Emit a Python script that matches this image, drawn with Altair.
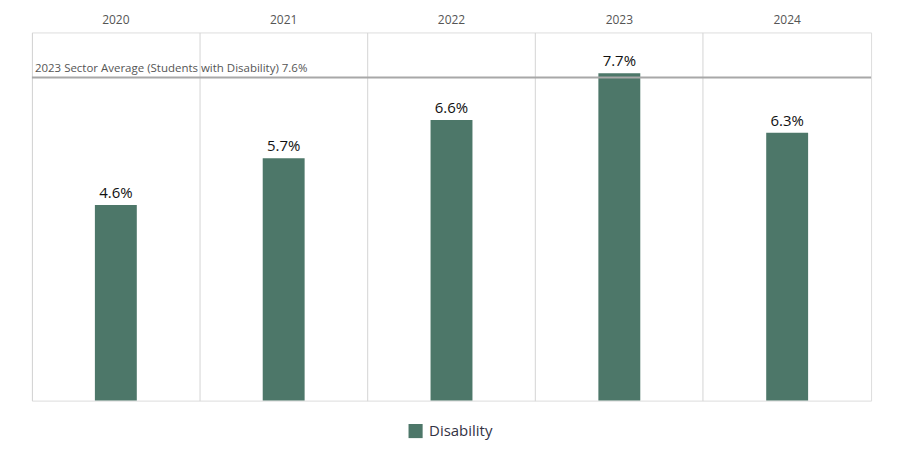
import altair as alt
import pandas as pd

years = ["2020", "2021", "2022", "2023", "2024"]
rates = [0.046, 0.057, 0.066, 0.077, 0.063]
series = "Disability"
sector_avg = 0.076
sector_label = "2023 Sector Average (Students with Disability) 7.6%"

df = pd.DataFrame({"Year": years, "Rate": rates, "Group": [series] * len(years)})

FONT = "Open Sans"
BAR_COLOR = "#4d7769"

x_enc = alt.X(
    "Year:N",
    sort=years,
    scale=alt.Scale(paddingInner=0, paddingOuter=0),
    axis=alt.Axis(
        orient="top", title=None, labelAngle=0, domain=False, ticks=False,
        grid=True, bandPosition=0, gridColor="#d4d4d4", gridWidth=1,
        labelFont=FONT, labelFontSize=12, labelColor="#555555", labelPadding=6,
    ),
)
y_scale = alt.Scale(domain=[0, 0.0866], nice=False)

bars = alt.Chart(df).mark_bar(size=42).encode(
    x=x_enc,
    y=alt.Y("Rate:Q", scale=y_scale, axis=None),
    color=alt.Color(
        "Group:N",
        scale=alt.Scale(domain=[series], range=[BAR_COLOR]),
        legend=alt.Legend(
            title=None, orient="none", legendX=377, legendY=392,
            symbolType="square", symbolSize=200, symbolStrokeWidth=0,
            symbolOpacity=1, labelFont=FONT, labelFontSize=15,
            labelColor="#333344", labelOffset=6,
        ),
    ),
)

labels = alt.Chart(df).mark_text(
    dy=-12, fontSize=15, font=FONT, color="#111111"
).encode(
    x=alt.X("Year:N", sort=years),
    y=alt.Y("Rate:Q", scale=y_scale),
    text=alt.Text("Rate:Q", format=".1%"),
)

ref_df = pd.DataFrame({"avg": [sector_avg], "label": [sector_label]})
ref_rule = alt.Chart(ref_df).mark_rule(color="#a8a8a8", strokeWidth=2).encode(
    y=alt.Y("avg:Q", scale=y_scale)
)
ref_text = alt.Chart(ref_df).mark_text(
    align="left", baseline="bottom", dx=0, dy=-4, fontSize=11.5, font=FONT,
    color="#555555",
).encode(
    x=alt.value(3),
    y=alt.Y("avg:Q", scale=y_scale),
    text="label:N",
)

chart = (
    alt.layer(bars, ref_rule, ref_text, labels)
    .properties(width=841, height=369, padding={"left": 31, "top": 13, "right": 34, "bottom": 20})
    .configure_view(stroke="#d0d0d0", strokeWidth=1)
    .configure(background="white")
)

chart.save("out.html", embed_options={"renderer": "svg", "actions": False})
